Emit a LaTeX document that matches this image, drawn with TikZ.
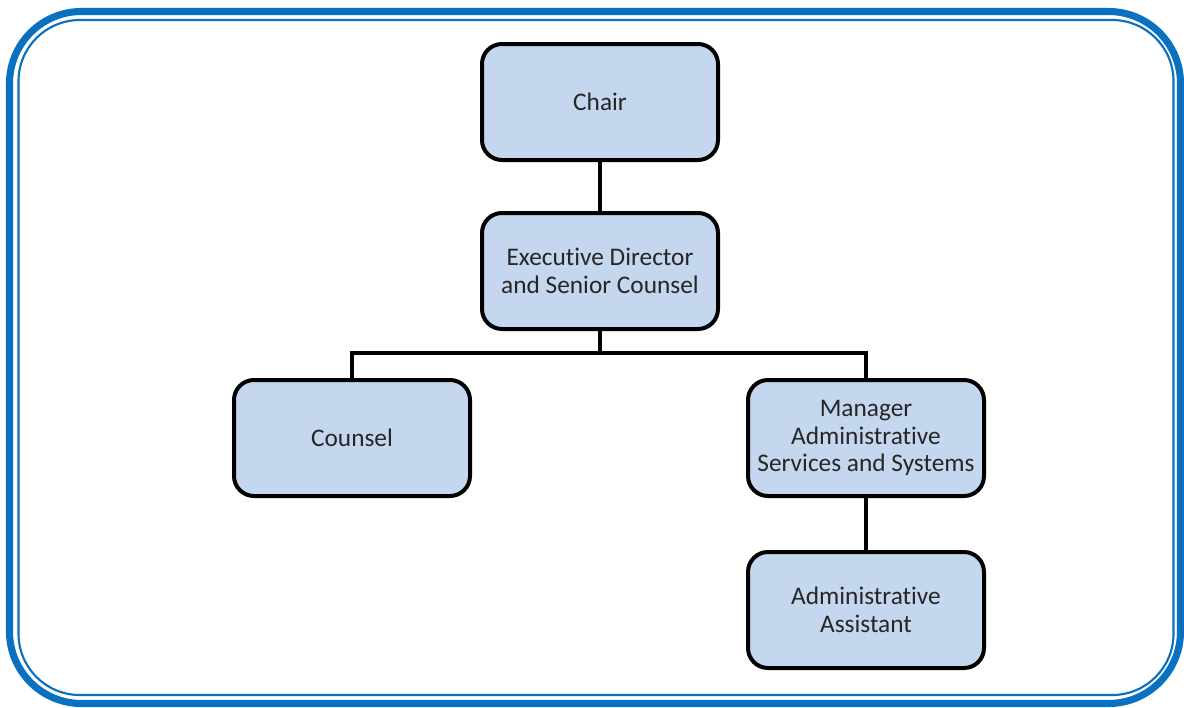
\documentclass[tikz,border=0pt]{standalone}
\usepackage{fontspec}
\setmainfont[Ligatures=NoCommon]{Carlito}
\usepackage{tikz}
\usetikzlibrary{positioning,calc}
\definecolor{framblue}{HTML}{0A70C0}
\definecolor{boxfill}{HTML}{C5D7EE}
\definecolor{textgray}{HTML}{262626}
\tikzset{
  post/.style={draw=black, fill=boxfill, rounded corners=15pt, line width=3pt,
    minimum width=177pt, minimum height=87pt, inner sep=2pt, align=center,
    font=\fontsize{19}{20.6}\selectfont, text=textgray},
  link/.style={draw=black, line width=3pt},
  outerframe/.style={draw=framblue, line width=5.3pt, rounded corners=54pt},
  innerframe/.style={draw=framblue, line width=1.6pt, rounded corners=46pt},
}
\begin{document}
\begin{tikzpicture}[x=0.75pt,y=-0.75pt]
  \useasboundingbox (0,0) rectangle (1184,707);
  % frame round the chart
  \draw[outerframe] (9.5,11.5) rectangle (1180.5,703.5);
  \draw[innerframe] (18.5,20) rectangle (1173.5,695);
  % the posts
  \node[post] (chair) at (600,102) {Chair};
  \node[post] (exec) at (600,271) {Executive Director\\and Senior Counsel};
  \node[post] (counsel) at (352,438) {Counsel};
  \node[post] (manager) at (866,438) {Manager\\Administrative\\Services and Systems};
  \node[post] (assist) at (866,610) {Administrative\\Assistant};
  % reporting lines
  \coordinate (fork) at (600,353);
  \draw[link] (chair) -- (exec);
  \draw[link] (exec) -- (fork) -| (counsel);
  \draw[link] (fork) -| (manager);
  \draw[link] (manager) -- (assist);
\end{tikzpicture}
\end{document}
